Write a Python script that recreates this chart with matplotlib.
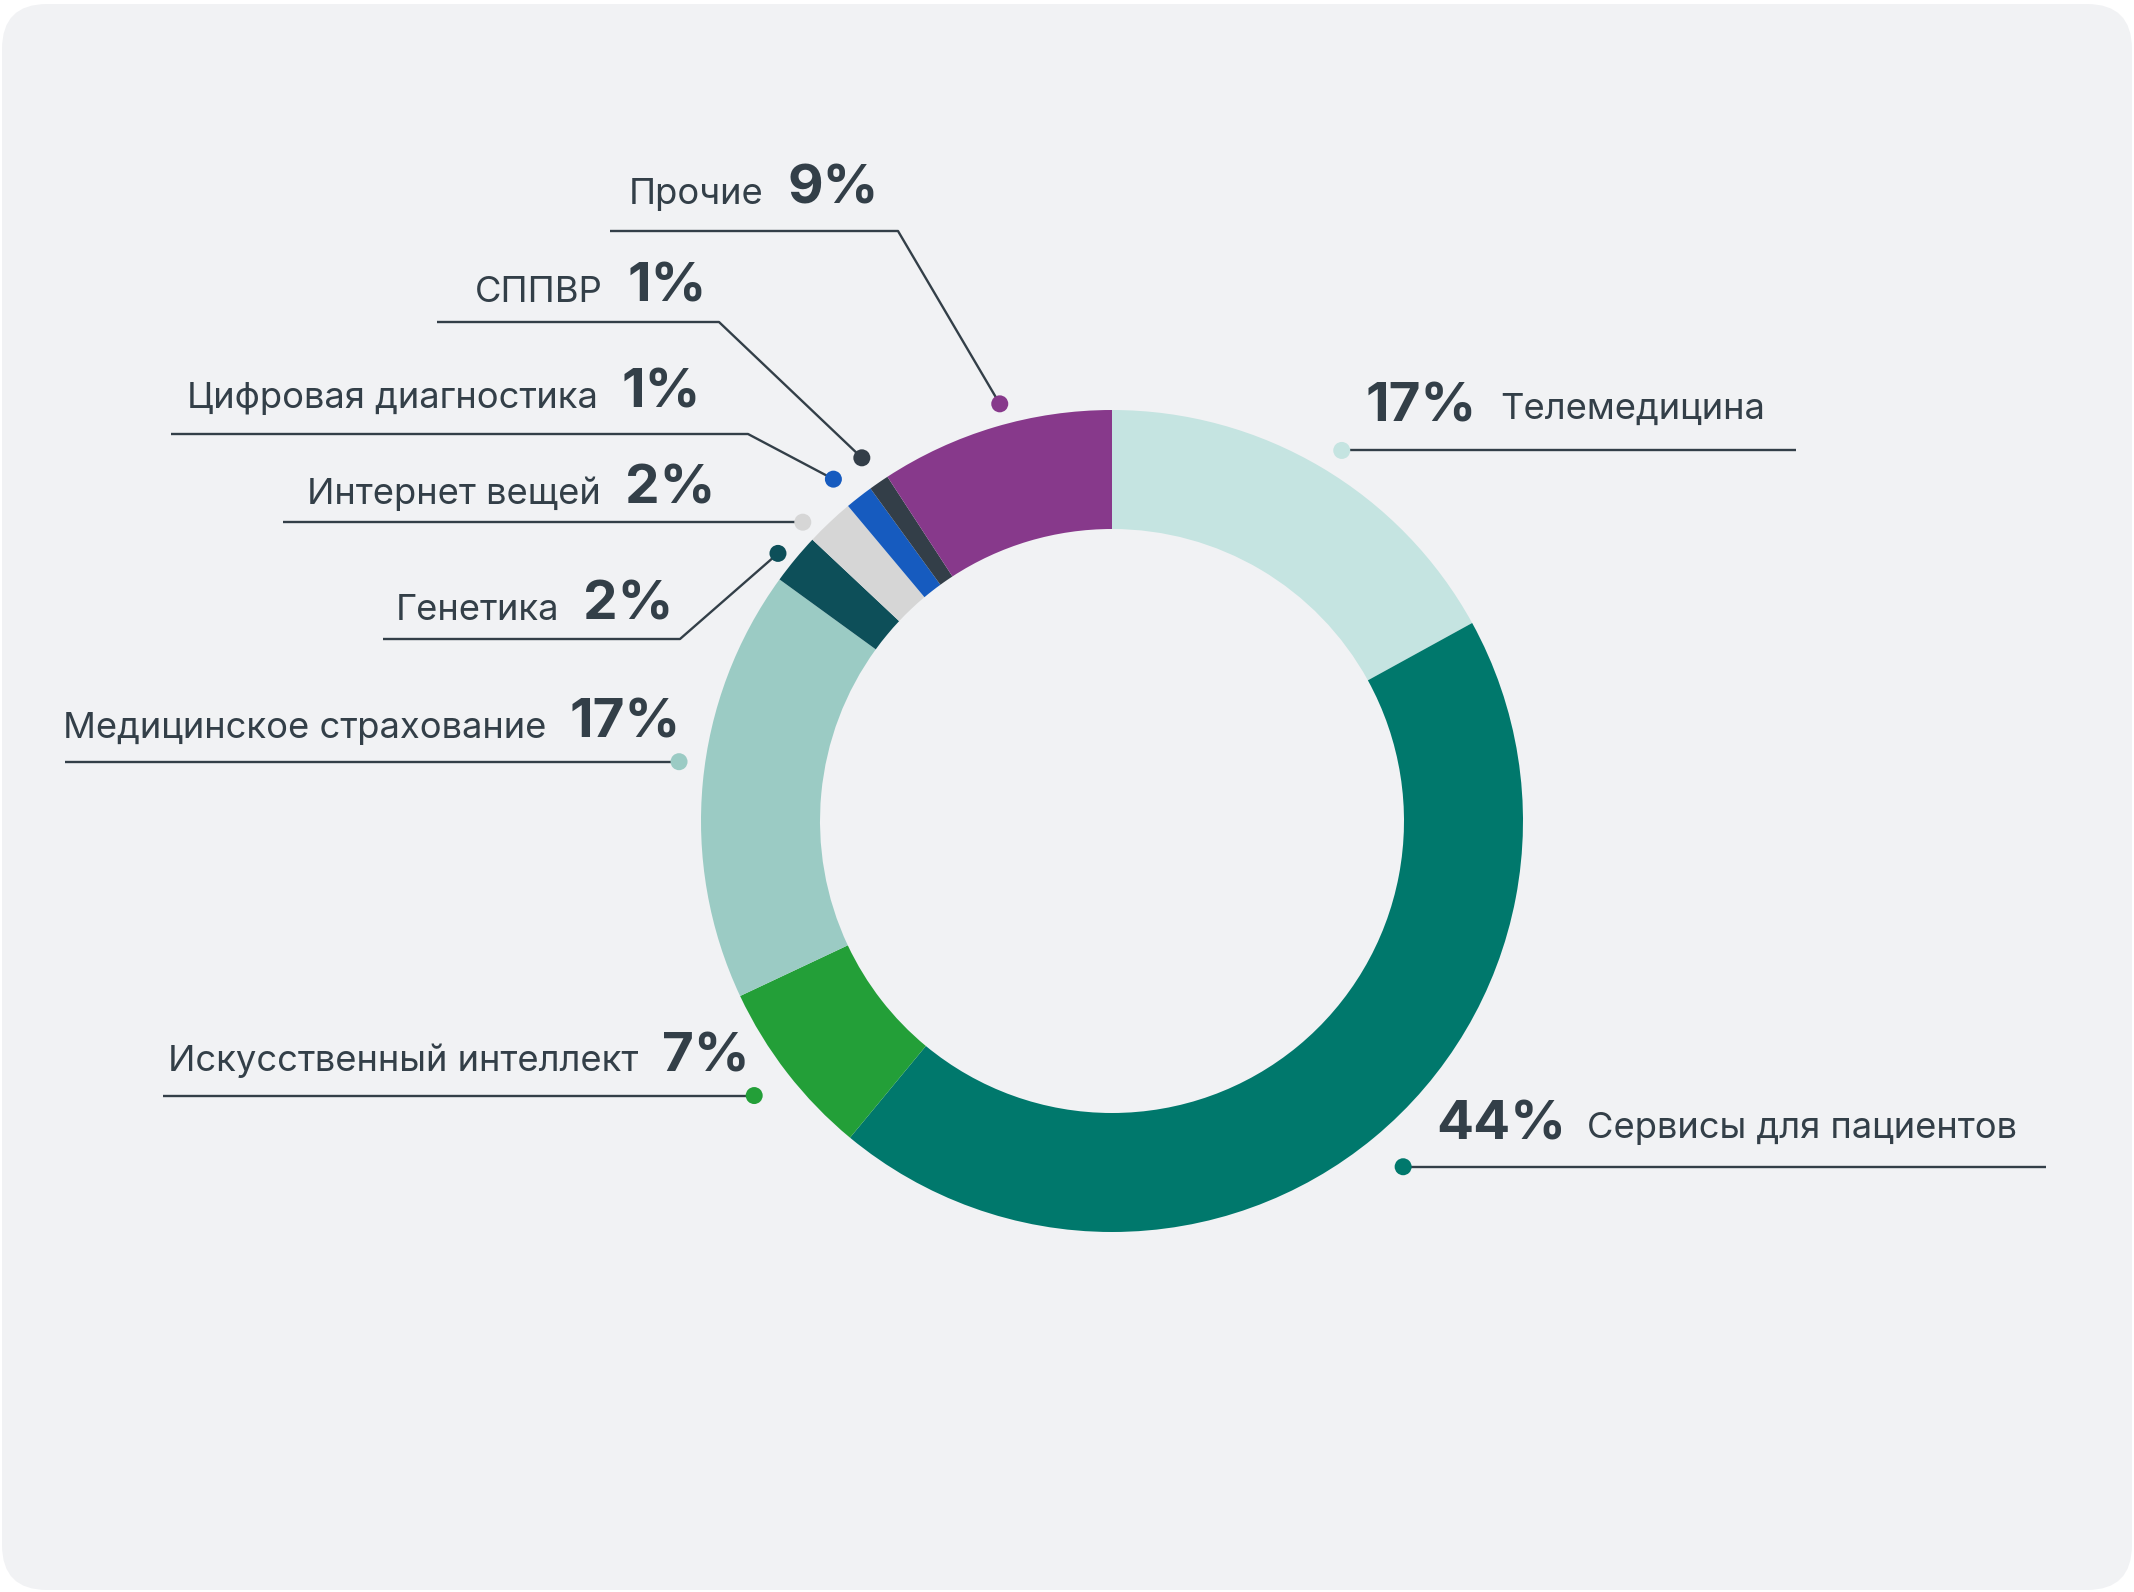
import matplotlib
matplotlib.use("Agg")
import matplotlib.pyplot as plt
from matplotlib.patches import FancyBboxPatch, Circle
import numpy as np

# ---------------- data ----------------
categories = ["Телемедицина", "Сервисы для пациентов", "Искусственный интеллект",
              "Медицинское страхование", "Генетика", "Интернет вещей",
              "Цифровая диагностика", "СППВР", "Прочие"]
values = [17, 44, 7, 17, 2.0, 1.9, 1.1, 0.8, 9.2]
pct_labels = ["17%", "44%", "7%", "17%", "2%", "2%", "1%", "1%", "9%"]
colors = ["#C5E4E1", "#00786C", "#239F38", "#9BCBC4", "#0D4F59",
          "#D6D6D6", "#165BBF", "#333E48", "#87398B"]

# ---------------- layout ----------------
W, H = 2134, 1592
TXT = "#333F48"
FONT = ["Inter", "DejaVu Sans"]
CX, CY = 1112, 821
R, RW = 411, 119

def Y(y):
    return H - y

fig = plt.figure(figsize=(W / 100, H / 100), dpi=100)
fig.patch.set_facecolor("white")
ax = fig.add_axes([0, 0, 1, 1])

card = FancyBboxPatch((2, Y(1590)), 2130, 1586, boxstyle="round,pad=0,rounding_size=45",
                      facecolor="#F1F2F4", edgecolor="none", zorder=0)
ax.add_patch(card)

wedges, _ = ax.pie(values, colors=colors, startangle=90, counterclock=False,
                   radius=R, center=(CX, Y(CY)),
                   wedgeprops=dict(width=RW, linewidth=0), frame=False)
for w in wedges:
    w.set_zorder(2)

ax.set_xlim(0, W)
ax.set_ylim(0, H)
ax.set_aspect("equal")
ax.set_axis_off()

# label layout per category: (side, dot angle offset, dot radius, outer_x, line_y, elbow_x, pct_x, baseline, name_x)
layout = [
    ("R", -1.2, 436, 1796, None, None, 1365, 421, 1500),
    ("R", 0.5, 452, 2046, None, None, 1436, 1140, 1587),
    ("L", -0.3, 451, 163, None, None, 662, 1071, None),
    ("L", -2.4, 437, 65, None, None, 570, 738, None),
    ("L", 0.9, 428, 383, 639, 680, 583, 620, None),
    ("L", 2.6, 430, 283, None, None, 625, 504, None),
    ("L", 1.2, 441, 171, 434, 748, 622, 408, None),
    ("L", 0.0, 441, 437, 322, 719, 627, 302, None),
    ("L", -1.5, 432, 610, 231, 898, 788, 204, None),
]

for w, cat, pct, col, lay in zip(wedges, categories, pct_labels, colors, layout):
    side, off, rd, outer_x, line_y, elbow_x, pct_x, base, name_x = lay
    a = np.deg2rad((w.theta1 + w.theta2) / 2 + off)
    dx = CX + rd * np.cos(a)
    dy = Y(CY) + rd * np.sin(a)
    ly = dy if line_y is None else Y(line_y)
    xs = [outer_x]
    ys = [ly]
    if elbow_x is not None:
        xs.append(elbow_x)
        ys.append(ly)
    xs.append(dx)
    ys.append(dy)
    ax.plot(xs, ys, color=TXT, lw=1.7, solid_capstyle="butt", zorder=3)
    ax.add_patch(Circle((dx, dy), 8.5, facecolor=col, edgecolor="none", zorder=4))

    ax.text(pct_x, Y(base), pct, fontsize=39.5, fontweight="bold", color=TXT,
            family=FONT, ha="left", va="baseline", zorder=5)
    if side == "L":
        ax.text(pct_x - 24, Y(base), cat, fontsize=26.2, color=TXT, family=FONT,
                ha="right", va="baseline", zorder=5)
    else:
        ax.text(name_x, Y(base - 2), cat, fontsize=26.2, color=TXT, family=FONT,
                ha="left", va="baseline", zorder=5)

fig.savefig("out.png", dpi=100, facecolor="white")
